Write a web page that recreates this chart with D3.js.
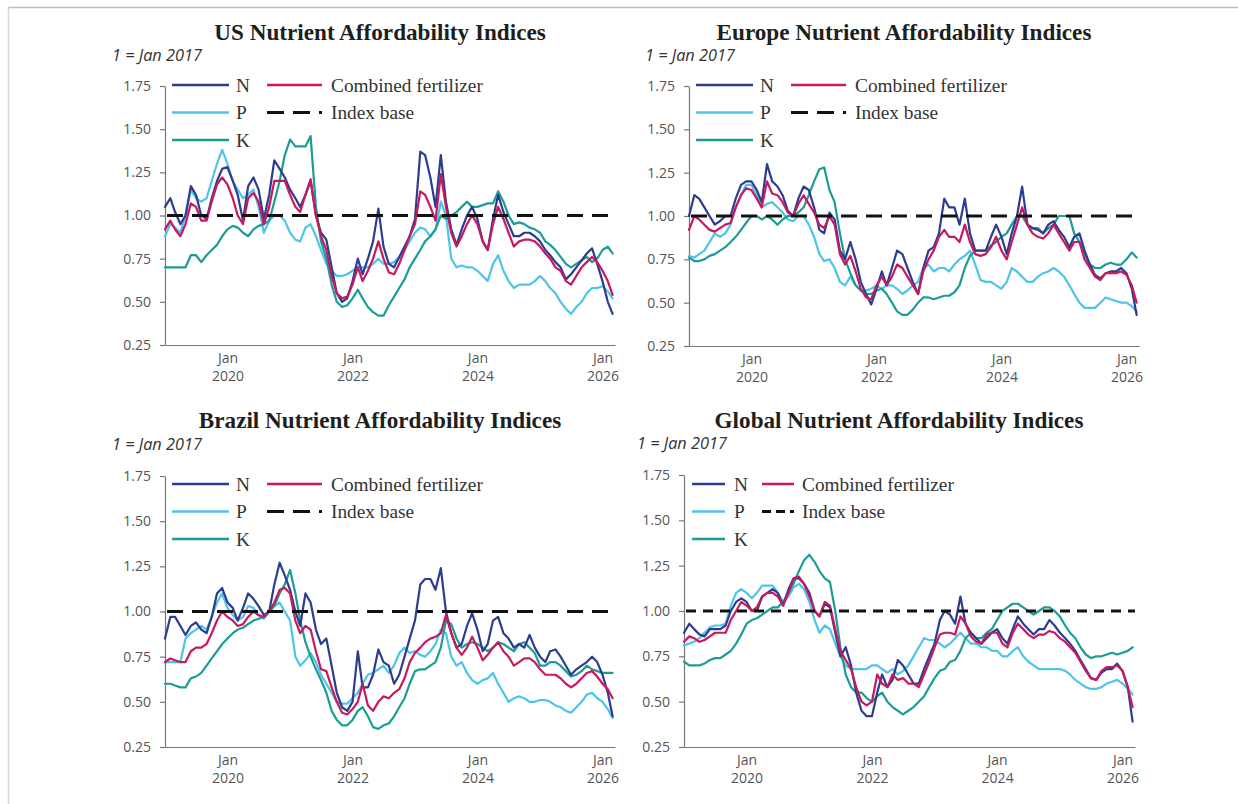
<!DOCTYPE html>
<html><head><meta charset="utf-8">
<script src="https://cdn.jsdelivr.net/npm/d3@7"></script>
<style>
body{margin:0;background:#fff;}
svg{display:block;}
</style></head><body>
<svg id="chart" width="1238" height="804"></svg>
<script>
// ---------- data ----------
const firstMonth = [2019, 0];          // Jan 2019, monthly data through Mar 2026
const yTicks = [0.25, 0.50, 0.75, 1.00, 1.25, 1.50, 1.75];
const xTickYears = [2020, 2022, 2024, 2026];
const xTickMonthLabel = "Jan";
const indexBase = 1.0;
const subtitleText = "1 = Jan 2017";
const legendLabels = ["N", "P", "K", "Combined fertilizer", "Index base"];

const usN = [1.05,1.10,1.02,0.95,1.00,1.17,1.12,1.00,0.98,1.10,
 1.20,1.27,1.28,1.20,1.12,0.97,1.17,1.22,1.15,0.98,
 1.12,1.32,1.27,1.22,1.15,1.10,1.05,1.12,1.20,1.00,
 0.90,0.86,0.70,0.55,0.50,0.52,0.62,0.75,0.66,0.75,
 0.85,1.04,0.82,0.72,0.70,0.76,0.82,0.88,0.98,1.37,
 1.35,1.22,1.05,1.35,1.08,0.92,0.83,0.92,1.00,1.05,
 0.98,0.85,0.80,0.98,1.12,1.02,0.95,0.88,0.88,0.90,
 0.90,0.88,0.85,0.80,0.77,0.73,0.70,0.63,0.66,0.70,
 0.74,0.78,0.81,0.72,0.62,0.50,0.43];
const usP = [0.88,0.95,0.93,0.90,1.00,1.15,1.10,1.08,1.10,1.20,
 1.30,1.38,1.30,1.20,1.15,1.10,1.12,1.15,1.05,0.90,
 0.97,1.00,1.00,0.97,0.90,0.86,0.85,0.93,0.95,0.88,
 0.80,0.72,0.68,0.65,0.65,0.66,0.68,0.70,0.70,0.70,
 0.72,0.75,0.72,0.72,0.73,0.76,0.80,0.85,0.90,0.93,
 0.92,0.88,0.92,1.08,1.00,0.75,0.70,0.71,0.70,0.70,
 0.68,0.65,0.62,0.72,0.77,0.68,0.62,0.58,0.60,0.60,
 0.60,0.62,0.65,0.62,0.58,0.55,0.50,0.46,0.43,0.47,
 0.50,0.55,0.58,0.58,0.59,0.56,0.52];
const usK = [0.70,0.70,0.70,0.70,0.70,0.77,0.77,0.73,0.77,0.80,
 0.83,0.88,0.92,0.94,0.93,0.90,0.88,0.92,0.94,0.95,
 0.97,1.08,1.20,1.35,1.44,1.40,1.40,1.40,1.46,1.05,
 0.85,0.75,0.60,0.50,0.47,0.48,0.52,0.57,0.52,0.47,
 0.44,0.42,0.42,0.48,0.53,0.58,0.63,0.70,0.75,0.80,
 0.85,0.88,0.92,1.00,0.98,1.00,1.02,1.05,1.08,1.05,
 1.05,1.06,1.07,1.07,1.14,1.08,1.00,0.95,0.96,0.95,
 0.93,0.92,0.90,0.85,0.83,0.80,0.76,0.72,0.70,0.72,
 0.74,0.76,0.73,0.75,0.80,0.82,0.78];
const usC = [0.92,0.97,0.92,0.88,0.95,1.07,1.05,0.97,0.97,1.08,
 1.18,1.22,1.18,1.10,1.00,0.95,1.10,1.13,1.08,0.95,
 1.05,1.20,1.20,1.20,1.12,1.05,1.02,1.12,1.21,1.00,
 0.88,0.80,0.65,0.55,0.52,0.53,0.60,0.70,0.62,0.68,
 0.75,0.85,0.75,0.67,0.66,0.72,0.80,0.88,0.95,1.14,
 1.12,1.05,0.97,1.24,1.05,0.90,0.82,0.88,0.95,1.00,
 0.95,0.85,0.80,0.95,1.05,0.98,0.90,0.82,0.85,0.86,
 0.86,0.85,0.82,0.78,0.75,0.70,0.68,0.62,0.60,0.65,
 0.70,0.73,0.76,0.73,0.68,0.62,0.54];

const euN = [1.00,1.12,1.10,1.05,1.00,0.95,0.97,1.00,1.00,1.10,
 1.18,1.20,1.20,1.15,1.08,1.30,1.20,1.17,1.12,1.03,
 1.00,1.10,1.17,1.15,1.05,0.92,0.90,1.02,0.98,0.80,
 0.75,0.85,0.75,0.62,0.55,0.49,0.58,0.68,0.60,0.70,
 0.80,0.78,0.70,0.62,0.55,0.70,0.80,0.82,0.90,1.10,
 1.05,1.05,0.95,1.10,0.90,0.80,0.80,0.80,0.88,0.95,
 0.88,0.78,0.90,1.00,1.17,0.95,0.93,0.92,0.90,0.95,
 0.97,0.92,0.88,0.82,0.88,0.90,0.80,0.72,0.66,0.64,
 0.67,0.68,0.68,0.70,0.67,0.58,0.43];
const euP = [0.77,0.76,0.78,0.80,0.85,0.90,0.88,0.90,0.95,1.05,
 1.12,1.18,1.18,1.12,1.05,1.07,1.08,1.05,1.02,0.98,
 0.97,1.00,1.00,0.95,0.88,0.78,0.74,0.75,0.70,0.62,
 0.60,0.65,0.60,0.57,0.57,0.58,0.60,0.58,0.60,0.60,
 0.58,0.55,0.57,0.60,0.62,0.70,0.72,0.68,0.70,0.70,
 0.68,0.72,0.75,0.77,0.80,0.72,0.63,0.62,0.62,0.60,
 0.58,0.62,0.70,0.68,0.65,0.62,0.62,0.65,0.67,0.68,
 0.70,0.68,0.65,0.60,0.55,0.50,0.47,0.47,0.47,0.50,
 0.53,0.52,0.51,0.50,0.50,0.48,0.45];
const euK = [0.76,0.74,0.74,0.75,0.77,0.78,0.80,0.82,0.85,0.88,
 0.92,0.96,1.00,1.00,0.98,1.00,0.98,0.95,0.98,1.00,
 1.00,1.02,1.05,1.12,1.20,1.27,1.28,1.15,1.08,0.90,
 0.75,0.67,0.60,0.57,0.55,0.55,0.57,0.58,0.55,0.50,
 0.45,0.43,0.43,0.46,0.50,0.53,0.53,0.52,0.53,0.54,
 0.54,0.56,0.60,0.70,0.77,0.80,0.80,0.80,0.83,0.85,
 0.88,0.90,0.95,1.00,1.00,0.95,0.93,0.93,0.90,0.93,
 0.95,1.00,1.00,1.00,0.90,0.85,0.78,0.72,0.70,0.70,
 0.72,0.73,0.72,0.72,0.75,0.79,0.76];
const euC = [0.92,1.00,0.98,0.95,0.92,0.91,0.93,0.95,0.96,1.05,
 1.12,1.16,1.15,1.10,1.05,1.20,1.13,1.12,1.08,1.02,
 1.00,1.07,1.12,1.07,1.02,0.95,0.93,1.00,0.95,0.78,
 0.72,0.77,0.68,0.58,0.53,0.52,0.60,0.65,0.60,0.65,
 0.72,0.70,0.65,0.60,0.55,0.68,0.75,0.80,0.88,0.92,
 0.88,0.88,0.85,0.95,0.85,0.78,0.77,0.78,0.82,0.88,
 0.80,0.75,0.85,0.95,1.05,0.95,0.90,0.88,0.87,0.90,
 0.95,0.90,0.85,0.80,0.85,0.85,0.75,0.70,0.65,0.63,
 0.67,0.67,0.67,0.68,0.66,0.60,0.50];

const brN = [0.85,0.97,0.97,0.92,0.87,0.92,0.94,0.90,0.88,0.97,
 1.10,1.13,1.05,1.02,0.95,1.02,1.10,1.07,1.03,0.98,
 1.00,1.15,1.27,1.20,1.12,1.00,0.92,1.10,1.05,0.90,
 0.82,0.85,0.70,0.55,0.47,0.45,0.50,0.78,0.58,0.58,
 0.65,0.79,0.72,0.70,0.60,0.65,0.75,0.85,0.95,1.15,
 1.18,1.18,1.12,1.24,1.00,0.88,0.80,0.82,0.92,0.99,
 0.90,0.78,0.82,0.95,0.97,0.88,0.85,0.80,0.82,0.80,
 0.87,0.80,0.75,0.72,0.78,0.79,0.75,0.70,0.65,0.68,
 0.70,0.72,0.75,0.72,0.65,0.55,0.42];
const brP = [0.72,0.72,0.72,0.72,0.85,0.88,0.90,0.92,0.90,0.97,
 1.05,1.10,1.02,0.98,0.95,0.97,1.03,1.02,0.98,0.96,
 1.00,1.03,1.05,1.00,0.95,0.75,0.70,0.73,0.77,0.72,
 0.65,0.60,0.55,0.50,0.49,0.49,0.52,0.55,0.60,0.65,
 0.66,0.68,0.70,0.66,0.70,0.77,0.80,0.77,0.78,0.76,
 0.75,0.78,0.82,0.90,0.88,0.75,0.70,0.72,0.66,0.62,
 0.60,0.62,0.63,0.66,0.60,0.55,0.50,0.52,0.53,0.52,
 0.50,0.50,0.51,0.51,0.50,0.48,0.47,0.45,0.44,0.47,
 0.50,0.54,0.55,0.52,0.50,0.46,0.41];
const brK = [0.60,0.60,0.59,0.58,0.58,0.63,0.64,0.66,0.70,0.74,
 0.78,0.82,0.85,0.88,0.90,0.91,0.93,0.95,0.96,0.97,
 1.00,1.03,1.10,1.15,1.23,1.10,0.95,0.83,0.75,0.68,
 0.62,0.55,0.45,0.40,0.37,0.37,0.40,0.45,0.47,0.42,
 0.36,0.35,0.37,0.38,0.42,0.47,0.52,0.60,0.67,0.68,
 0.68,0.70,0.72,0.80,0.95,0.93,0.85,0.80,0.82,0.83,
 0.82,0.80,0.78,0.80,0.83,0.82,0.80,0.78,0.82,0.83,
 0.80,0.77,0.70,0.70,0.72,0.72,0.70,0.67,0.64,0.65,
 0.67,0.70,0.68,0.67,0.66,0.66,0.66];
const brC = [0.72,0.74,0.73,0.72,0.72,0.78,0.80,0.80,0.82,0.88,
 0.95,1.00,0.97,0.95,0.92,0.93,0.97,1.00,0.98,0.97,
 1.00,1.05,1.12,1.13,1.10,0.95,0.88,0.92,0.90,0.78,
 0.68,0.67,0.58,0.50,0.44,0.43,0.46,0.50,0.60,0.48,
 0.45,0.50,0.53,0.52,0.55,0.57,0.63,0.72,0.77,0.80,
 0.83,0.85,0.86,0.88,0.98,0.88,0.80,0.76,0.80,0.86,
 0.80,0.73,0.76,0.80,0.83,0.78,0.75,0.70,0.72,0.74,
 0.74,0.72,0.68,0.65,0.65,0.65,0.63,0.60,0.58,0.60,
 0.63,0.66,0.67,0.64,0.60,0.57,0.52];

const glN = [0.88,0.93,0.90,0.87,0.86,0.90,0.90,0.90,0.92,1.00,
 1.05,1.07,1.05,1.00,1.00,1.08,1.10,1.12,1.10,1.03,
 1.12,1.18,1.18,1.15,1.10,1.00,0.97,1.04,1.02,0.88,
 0.75,0.80,0.70,0.55,0.45,0.42,0.42,0.55,0.65,0.58,
 0.62,0.73,0.70,0.65,0.60,0.60,0.68,0.75,0.82,0.95,
 1.00,0.98,0.93,1.08,0.93,0.88,0.85,0.82,0.85,0.88,
 0.90,0.85,0.82,0.90,0.97,0.93,0.90,0.87,0.90,0.90,
 0.95,0.92,0.88,0.85,0.82,0.78,0.73,0.68,0.63,0.62,
 0.66,0.68,0.68,0.71,0.67,0.58,0.39];
const glP = [0.81,0.82,0.83,0.85,0.88,0.91,0.92,0.92,0.93,1.03,
 1.10,1.12,1.10,1.07,1.10,1.14,1.14,1.14,1.10,1.05,
 1.08,1.13,1.15,1.12,1.05,0.95,0.88,0.92,0.90,0.82,
 0.75,0.70,0.68,0.68,0.68,0.68,0.70,0.70,0.68,0.66,
 0.68,0.65,0.67,0.70,0.75,0.80,0.85,0.84,0.84,0.82,
 0.80,0.82,0.85,0.88,0.85,0.82,0.82,0.80,0.80,0.78,
 0.78,0.75,0.75,0.78,0.80,0.75,0.72,0.70,0.68,0.68,
 0.68,0.68,0.68,0.67,0.65,0.62,0.60,0.58,0.57,0.57,
 0.58,0.60,0.61,0.62,0.60,0.57,0.54];
const glK = [0.72,0.70,0.70,0.70,0.71,0.73,0.74,0.74,0.76,0.78,
 0.82,0.87,0.93,0.95,0.96,0.98,1.00,1.02,1.02,1.05,
 1.10,1.15,1.22,1.28,1.31,1.27,1.22,1.18,1.16,1.00,
 0.80,0.65,0.58,0.55,0.55,0.52,0.50,0.53,0.55,0.50,
 0.47,0.45,0.43,0.45,0.47,0.50,0.53,0.58,0.63,0.67,
 0.68,0.72,0.73,0.78,0.85,0.88,0.85,0.85,0.88,0.90,
 0.95,1.00,1.02,1.04,1.04,1.02,1.00,0.98,1.00,1.02,
 1.02,1.00,0.97,0.92,0.88,0.85,0.80,0.76,0.74,0.75,
 0.75,0.76,0.77,0.76,0.77,0.78,0.80];
const glC = [0.83,0.86,0.85,0.83,0.84,0.86,0.88,0.88,0.88,0.95,
 1.00,1.05,1.03,1.00,1.02,1.08,1.10,1.10,1.08,1.03,
 1.10,1.18,1.19,1.15,1.08,1.00,0.97,1.05,1.03,0.90,
 0.78,0.73,0.68,0.58,0.50,0.48,0.50,0.65,0.60,0.58,
 0.65,0.62,0.63,0.60,0.60,0.58,0.65,0.72,0.80,0.87,
 0.88,0.88,0.87,0.97,0.93,0.86,0.83,0.82,0.87,0.88,
 0.88,0.82,0.80,0.88,0.93,0.90,0.87,0.85,0.87,0.87,
 0.89,0.88,0.85,0.83,0.80,0.77,0.72,0.67,0.63,0.62,
 0.67,0.69,0.69,0.70,0.67,0.58,0.47];

// ---------- styling / layout ----------
const colors = {N:"#2c3d8f", P:"#4ec4ea", K:"#1c9c95", C:"#c8195f", base:"#111"};
const panels = [
  {title:"US Nutrient Affordability Indices", data:{N:usN,P:usP,K:usK,C:usC},
   left:165, right:615, top:86, bottom:345, titleY:40, subX:112, subY:61, legTop:85, compact:false},
  {title:"Europe Nutrient Affordability Indices", data:{N:euN,P:euP,K:euK,C:euC},
   left:689, right:1139, top:86, bottom:346, titleY:40, subX:645, subY:61, legTop:85, compact:false},
  {title:"Brazil Nutrient Affordability Indices", data:{N:brN,P:brP,K:brK,C:brC},
   left:165, right:615, top:476, bottom:747, titleY:428, subX:112, subY:450, legTop:484, compact:false},
  {title:"Global Nutrient Affordability Indices", data:{N:glN,P:glP,K:glK,C:glC},
   left:684, right:1135, top:475, bottom:747, titleY:428, subX:637, subY:449, legTop:484, compact:true}
];

const svg = d3.select("#chart");
const titleFont = "'Liberation Serif', 'DejaVu Serif', serif";
const legendFont = "'Liberation Serif', 'DejaVu Serif', serif";
const sansFont = "'Open Sans', 'Noto Sans', sans-serif";

// frame lines
svg.append("line").attr("x1",8).attr("x2",1238).attr("y1",7.5).attr("y2",7.5)
  .attr("stroke","#bdbdbd").attr("stroke-width",1.5);
svg.append("line").attr("x1",8.5).attr("x2",8.5).attr("y1",7).attr("y2",804)
  .attr("stroke","#d6d6d6").attr("stroke-width",1.5);

function fitSize(text, family, weight, style, target){
  const t = svg.append("text").attr("font-family",family).attr("font-weight",weight)
    .attr("font-style",style).attr("font-size",100).text(text);
  const w = t.node().getComputedTextLength();
  t.remove();
  return 100 * target / w;
}
const titleSize = fitSize("Europe Nutrient Affordability Indices", titleFont, "bold", "normal", 375);
const legendSize = fitSize("Combined fertilizer", legendFont, "normal", "normal", 152);
const subSize = fitSize(subtitleText, sansFont, "normal", "italic", 90);
const tickSize = 14;

const dates = usN.map((_, i) => new Date(firstMonth[0], firstMonth[1] + i, 1));

panels.forEach(p => {
  const g = svg.append("g");
  const x = d3.scaleTime()
    .domain([new Date(2019,0,1), new Date(2026,2,15)])
    .range([p.left, p.right]);
  const y = d3.scaleLinear().domain([0.25, 1.75]).range([p.bottom, p.top]);

  // title
  g.append("text").attr("x", p.left + 215).attr("y", p.titleY)
    .attr("text-anchor","middle").attr("font-family",titleFont).attr("font-weight","bold")
    .attr("font-size",titleSize).attr("fill","#1e1e1e").text(p.title);
  // subtitle
  g.append("text").attr("x", p.subX).attr("y", p.subY)
    .attr("font-family",sansFont).attr("font-style","italic")
    .attr("font-size",subSize).attr("fill","#333").text(subtitleText);

  // y axis
  const ya = g.append("g").attr("transform",`translate(${p.left},0)`)
    .call(d3.axisLeft(y).tickValues(yTicks).tickFormat(d3.format(".2f"))
      .tickSize(5).tickSizeOuter(0).tickPadding(9));
  ya.select(".domain").attr("stroke","#777").attr("stroke-width",1.2);
  ya.selectAll(".tick line").attr("stroke","#777").attr("stroke-width",1.2);
  ya.selectAll(".tick text").attr("font-family",sansFont).attr("font-size",tickSize).attr("fill","#555");

  // x axis
  const tickDates = xTickYears.map(yr => new Date(yr,0,1));
  const xa = g.append("g").attr("transform",`translate(0,${p.bottom})`)
    .call(d3.axisBottom(x).tickValues(tickDates).tickFormat(() => "").tickSize(0).tickSizeOuter(0));
  xa.select(".domain").attr("stroke","#777").attr("stroke-width",1.2);
  xa.selectAll(".tick").each(function(d){
    const t = d3.select(this).append("text").attr("text-anchor","middle")
      .attr("font-family",sansFont).attr("font-size",tickSize).attr("fill","#555");
    t.append("tspan").attr("x",0).attr("y",18).text(xTickMonthLabel);
    t.append("tspan").attr("x",0).attr("y",36).text(d.getFullYear());
  });

  // series lines
  const line = d3.line().x((d,i) => x(dates[i])).y(d => y(d));
  ["P","K","N","C"].forEach(k => {
    g.append("path").datum(p.data[k]).attr("d", line)
      .attr("fill","none").attr("stroke",colors[k]).attr("stroke-width",2.2)
      .attr("stroke-linejoin","round").attr("stroke-linecap","round");
  });

  // index base
  const dash = p.compact ? "10,7" : "16,9";
  g.append("line").attr("x1",p.left+2).attr("x2",p.right).attr("y1",y(indexBase)).attr("y2",y(indexBase))
    .attr("stroke",colors.base).attr("stroke-width",3).attr("stroke-dasharray",dash);

  // legend
  const c1 = p.compact ? [p.left+8, p.left+41, p.left+50] : [p.left+7, p.left+64, p.left+71];
  const c2 = p.compact ? [p.left+78, p.left+110, p.left+118] : [p.left+102, p.left+157, p.left+166];
  const items = [
    {col:c1,row:0,key:"N",label:legendLabels[0]},
    {col:c1,row:1,key:"P",label:legendLabels[1]},
    {col:c1,row:2,key:"K",label:legendLabels[2]},
    {col:c2,row:0,key:"C",label:legendLabels[3]},
    {col:c2,row:1,key:"base",label:legendLabels[4]}
  ];
  const lg = g.append("g");
  items.forEach(it => {
    const yy = p.legTop + it.row*27.5;
    lg.append("line").attr("x1",it.col[0]).attr("x2",it.col[1]).attr("y1",yy).attr("y2",yy)
      .attr("stroke",colors[it.key]).attr("stroke-width", it.key==="base"?3:2.5)
      .attr("stroke-dasharray", it.key==="base" ? (p.compact ? "9,5" : "17,9") : null);
    lg.append("text").attr("x",it.col[2]).attr("y",yy).attr("dy","0.35em")
      .attr("font-family",legendFont).attr("font-size",legendSize).attr("fill","#333").text(it.label);
  });
});
</script>
</body></html>
